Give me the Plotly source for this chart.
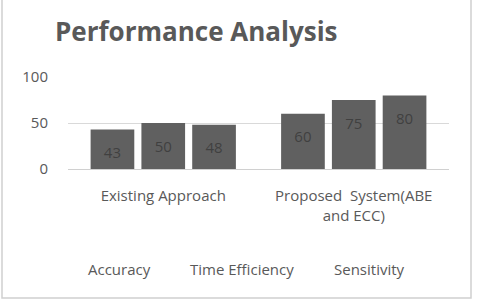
import plotly.graph_objects as go

categories = ["Existing Approach", "Proposed  System(ABE<br>and ECC)"]
series_names = ["Accuracy", "Time Efficiency", "Sensitivity"]
accuracy = [43, 60]
time_efficiency = [50, 75]
sensitivity = [48, 80]
y_ticks = [0, 50, 100]

values = [accuracy, time_efficiency, sensitivity]
FONT = "Open Sans"
GREY = "#595959"

PLOT_H = 301 - 77 - 132
PLOT_W = 485 - 68 - 36

fig = go.Figure()
for name, vals in zip(series_names, values):
    fig.add_trace(go.Bar(
        x=categories, y=vals, name=name,
        marker=dict(color="#606060", line=dict(width=0)),
        text=["<span style='font-size:6px'> </span><br>" + str(v) for v in vals],
        textposition="inside",
        insidetextanchor="end",
        textfont=dict(family=FONT, size=15, color="#404040"),
        showlegend=False,
    ))

fig.update_layout(
    width=485, height=301,
    margin=dict(l=68, r=36, t=77, b=132),
    paper_bgcolor="white", plot_bgcolor="white",
    barmode="group", bargap=0.2, bargroupgap=0.14,
    title=dict(text="<b>Performance Analysis</b>", x=55/485, xanchor="left",
               y=1 - 32/301, yanchor="middle",
               font=dict(family=FONT, size=26, color=GREY)),
    font=dict(family=FONT, color=GREY),
)
fig.update_xaxes(showgrid=False, showline=False, ticks="",
                 tickfont=dict(family=FONT, size=15, color=GREY),
                 ticklabelstandoff=16)
fig.update_yaxes(range=[0, 100], tickvals=y_ticks, showgrid=True,
                 gridcolor="#d9d9d9", gridwidth=1, zeroline=True,
                 zerolinecolor="#d0d0d0", zerolinewidth=1,
                 tickfont=dict(family=FONT, size=15, color=GREY),
                 ticklabelstandoff=19)

legend_x = [119, 242, 369]
for name, px in zip(series_names, legend_x):
    fig.add_annotation(text=name, x=(px - 68)/PLOT_W, y=(169 - 269)/PLOT_H,
                       xref="paper", yref="paper", showarrow=False,
                       xanchor="center", yanchor="middle",
                       font=dict(family=FONT, size=15, color=GREY))

fig.add_shape(type="rect", xref="paper", yref="paper",
              x0=(2 - 68)/PLOT_W, x1=(471 - 68)/PLOT_W,
              y0=(169 - 298)/PLOT_H, y1=(169 + 2)/PLOT_H,
              line=dict(color="#d0d0d0", width=1.5))

fig.write_html("out.html")
